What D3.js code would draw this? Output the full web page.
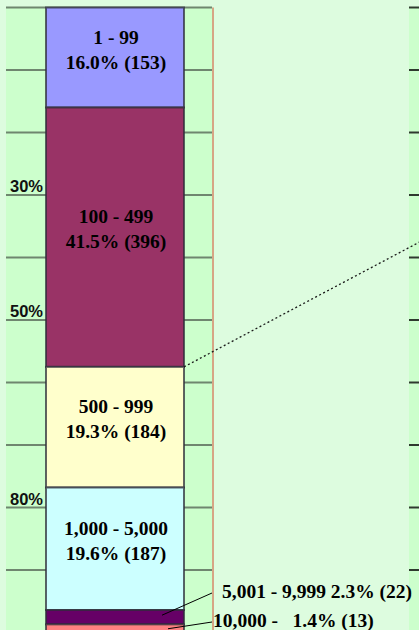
<!DOCTYPE html>
<html>
<head>
<meta charset="utf-8">
<script src="https://cdn.jsdelivr.net/npm/d3@7"></script>
<style>
  body { margin: 0; background: #ddfcdf; overflow: hidden; }
  svg { display: block; }
</style>
</head>
<body>
<div id="chart"></div>
<script>
// data
var categories = ["1 - 99", "100 - 499", "500 - 999", "1,000 - 5,000", "5,001 - 9,999", "10,000 - "];
var percents = [16.0, 41.5, 19.3, 19.6, 2.3, 1.4];
var counts = [153, 396, 184, 187, 22, 13];
var colors = ["#9999ff", "#993366", "#ffffcc", "#ccffff", "#660066", "#ff8080"];
var gridValues = [0, 10, 20, 30, 40, 50, 60, 70, 80, 90, 100];
var tickValues = [30, 50, 80];
var tickLabels = ["30%", "50%", "80%"];

var w = 419, h = 630;

var svg = d3.select("#chart").append("svg")
  .attr("width", w)
  .attr("height", h);

var y = d3.scaleLinear().domain([0, 100]).range([7.5, 632.5]);

// stack the percentages
var start = 0;
var segs = percents.map(function(p, i) {
  var s = {i: i, y0: start, y1: start + p};
  start += p;
  return s;
});

// left plot area
svg.append("rect")
  .attr("x", 6).attr("y", y(0))
  .attr("width", 207).attr("height", h)
  .style("fill", "#ccffcc");
svg.append("line")
  .attr("x1", 213).attr("x2", 213)
  .attr("y1", y(0)).attr("y2", h)
  .style("stroke", "#d6a585").style("stroke-width", 2);

// right plot area (second chart, mostly off frame)
svg.append("rect")
  .attr("x", 409).attr("y", y(0))
  .attr("width", 20).attr("height", h)
  .style("fill", "#ccffcc");

svg.selectAll("line.grid")
  .data(gridValues)
  .enter().append("line")
  .attr("class", "grid")
  .attr("x1", 6).attr("x2", 212)
  .attr("y1", function(d) { return y(d); })
  .attr("y2", function(d) { return y(d); })
  .style("stroke", "#6f866f")
  .style("stroke-width", 2);

svg.selectAll("line.grid2")
  .data(gridValues)
  .enter().append("line")
  .attr("class", "grid2")
  .attr("x1", 409).attr("x2", w)
  .attr("y1", function(d) { return y(d); })
  .attr("y2", function(d) { return y(d); })
  .style("stroke", "#2f3a2f")
  .style("stroke-width", 2);

// axis labels
svg.selectAll("text.tick")
  .data(tickValues)
  .enter().append("text")
  .attr("class", "tick")
  .attr("x", 43)
  .attr("y", function(d) { return y(d) - 3; })
  .attr("text-anchor", "end")
  .style("font-family", "'Liberation Sans', Arial, sans-serif")
  .style("font-weight", "bold")
  .style("font-size", "16.5px")
  .style("fill", "#111")
  .text(function(d, i) { return tickLabels[i]; });

// stacked bar
var barX = 46, barW = 138;
svg.selectAll("rect.seg")
  .data(segs)
  .enter().append("rect")
  .attr("class", "seg")
  .attr("x", barX)
  .attr("y", function(d) { return y(d.y0); })
  .attr("width", barW)
  .attr("height", function(d) { return y(d.y1) - y(d.y0); })
  .style("fill", function(d) { return colors[d.i]; })
  .style("stroke", "#2e2e3a")
  .style("stroke-opacity", 0.75)
  .style("stroke-width", 2);

// series line towards the second chart
var cut = segs[1].y1;
svg.append("line")
  .attr("x1", barX + barW).attr("y1", y(cut))
  .attr("x2", 440).attr("y2", y(cut) - (440 - barX - barW) * 0.53)
  .style("stroke", "#1a1a1a")
  .style("stroke-width", 1.3)
  .style("stroke-dasharray", "2,2.5");

var serif = "'Liberation Serif', 'Times New Roman', serif";

// labels inside the big segments
var inner = segs.filter(function(d) { return percents[d.i] > 10; });
var lab = svg.selectAll("g.lab")
  .data(inner)
  .enter().append("g")
  .attr("class", "lab")
  .style("font-family", serif)
  .style("font-weight", "bold")
  .style("font-size", "19.5px")
  .style("fill", "#000")
  .attr("text-anchor", "middle");

lab.append("text")
  .attr("x", barX + barW / 2 + 1)
  .attr("y", function(d) { return (y(d.y0) + y(d.y1)) / 2 - 14; })
  .text(function(d) { return categories[d.i]; });
lab.append("text")
  .attr("x", barX + barW / 2 + 1)
  .attr("y", function(d) { return (y(d.y0) + y(d.y1)) / 2 + 11; })
  .text(function(d) { return percents[d.i].toFixed(1) + "% (" + counts[d.i] + ")"; });

// labels with leader lines for the thin segments
var outer = segs.filter(function(d) { return percents[d.i] <= 10; });
var outY = [598, 627];
var outX = [222, 213];
outer.forEach(function(d, k) {
  var mid = (y(d.y0) + y(d.y1)) / 2;
  svg.append("line")
    .attr("x1", 162 + k * 6).attr("y1", mid + (k === 0 ? -2 : 0))
    .attr("x2", 212).attr("y2", outY[k] - 5)
    .style("stroke", "#000")
    .style("stroke-width", 1);
  svg.append("text")
    .attr("x", outX[k])
    .attr("y", outY[k])
    .style("font-family", serif)
    .style("font-weight", "bold")
    .style("font-size", "19.5px")
    .style("fill", "#000")
    .style("white-space", "pre")
    .text(categories[d.i] + (k === 0 ? " " : "  ") + percents[d.i].toFixed(1) + "% (" + counts[d.i] + ")");
});
</script>
</body>
</html>
